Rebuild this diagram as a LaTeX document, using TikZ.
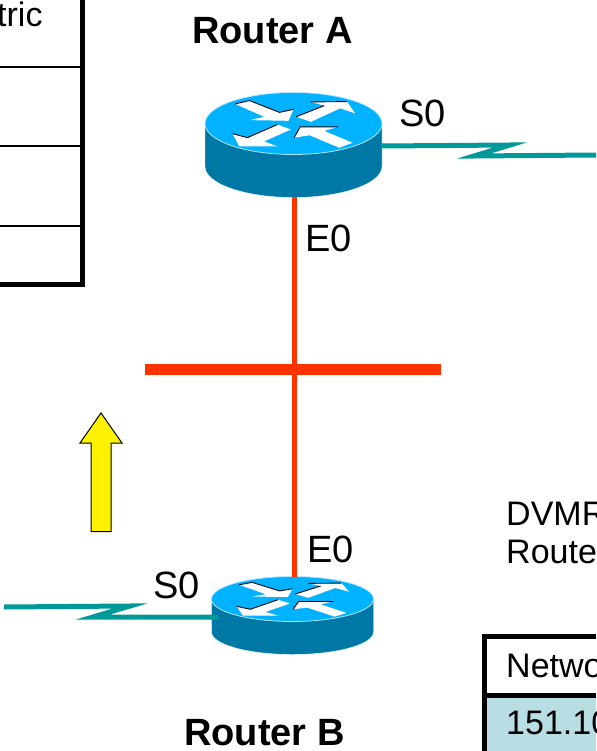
\documentclass[tikz,border=0pt]{standalone}
\usepackage{fontspec}
\setmainfont{Liberation Sans}
\definecolor{routertop}{RGB}{0,178,255}
\definecolor{routerside}{RGB}{0,120,165}
\definecolor{ethred}{RGB}{255,51,0}
\definecolor{serialteal}{RGB}{0,153,153}
\definecolor{rowblue}{RGB}{184,222,228}
\tikzset{
  x=1pt,y=-1pt,
  lbl/.style={inner sep=0pt,anchor=base west,font=\fontsize{38}{38}\selectfont},
  title/.style={inner sep=0pt,anchor=base west,font=\fontsize{38}{38}\selectfont\bfseries},
  rnode/.style={draw=none,fill=none,inner sep=0pt,rectangle},
  eth/.style={ethred,line width=5pt},
  ethbar/.style={ethred,line width=11pt},
  serial/.style={serialteal,line width=5pt,line join=miter},
  tblo/.style={black,line width=5pt},
  tbli/.style={black,line width=2.5pt},
  tblh/.style={black,line width=5pt}
}
\newcommand{\routerbody}[5]{% cx, cy, rx, ry, depth
  \begin{scope}[shift={(#1,#2)}]
    \fill[routerside,draw=white,line width=.4pt] (-#3,0) -- (-#3,#5) arc[start angle=180,end angle=360,x radius=#3,y radius=-#4] -- (#3,0) -- cycle;
    \fill[routertop,draw=white!70!routertop,line width=.8pt] (0,0) ellipse[x radius=#3,y radius=#4];
    \begin{scope}[xscale=#3/265,yscale=#4/92,shift={(-310,-130)}]
      \fill[white] (135,72)--(178,62)--(268,97)--(310,88)--(295,122)--(180,120)--(222,110)--cycle;
      \fill[white] (318,110)--(402,77)--(362,66)--(470,65)--(495,100)--(450,85)--(362,125)--cycle;
      \fill[white] (302,148)--(262,133)--(172,172)--(127,160)--(148,198)--(262,198)--(222,183)--cycle;
      \fill[white] (312,172)--(330,140)--(443,140)--(402,152)--(487,187)--(447,202)--(358,165)--cycle;
      \draw[black,line width=.9pt] (135,72)--(178,62)--(268,97)--(310,88);
      \draw[black,line width=.9pt] (318,110)--(402,77) (362,66)--(470,65);
      \draw[black,line width=.9pt] (262,133)--(172,172)--(127,160);
      \draw[black,line width=.9pt] (312,172)--(330,140)--(443,140);
    \end{scope}
  \end{scope}
}
\begin{document}
\begin{tikzpicture}
\useasboundingbox (0,0) rectangle (596,751);
\fill[white] (0,0) rectangle (596,751);
% left table
\draw[tbli] (0,67) -- (82,67) (0,146) -- (82,146) (0,226) -- (82,226);
\draw[tblo] (82,0) -- (82,284.5) -- (0,284.5);
\node[lbl] (metric) at (-3,27) {\fontsize{34}{34}\selectfont tric};
% right table
\fill[rowblue] (484,695) rectangle (596,751);
\draw[tblo] (596,636.5) -- (484,636.5) -- (484,751);
\draw[tblh] (484,695) -- (596,695);
\node[lbl] (nw) at (506,677) {\fontsize{34}{34}\selectfont Network};
\node[lbl] (net) at (506,734) {\fontsize{34}{34}\selectfont 151.10};
% DVMRP text
\node[lbl] (dv1) at (506,525) {\fontsize{34}{34}\selectfont DVMRP};
\node[lbl] (dv2) at (506,563) {\fontsize{34}{34}\selectfont Router};
% routers
\routerbody{293.5}{123.5}{88.5}{31}{43}
\routerbody{292.5}{599}{81}{22.5}{33}
\node[rnode,minimum width=177pt,minimum height=104pt] (ra) at (293.5,145) {};
\node[rnode,minimum width=162pt,minimum height=77pt] (rb) at (292.5,615.5) {};
% ethernet
\coordinate (hub) at (294,369);
\coordinate (busl) at (145,369);
\coordinate (busr) at (441,369);
\draw[eth] (ra.south -| hub) -- (hub);
\draw[eth] (hub) -- (rb.north -| hub);
\draw[ethbar] (busl) -- (busr);
% serial
\coordinate (sa) at (596,155);
\coordinate (sb) at (4,607);
\draw[serial] (ra.east |- 0,146) -- (510,145) -- (474,156) -- (sa);
\draw[serial] (sb) -- (130,606) -- (93,617) -- (218,617);
% yellow arrow
\node[inner sep=0pt] (up) at (101,470) {};
\draw[black,fill=yellow,line width=1pt] (91,531.5) -- (91,443) -- (80,443) -- (101,413) -- (122,443) -- (111,443) -- (111,531.5) -- cycle;
% labels
\node[title] (ta) at (192,44) {Router A};
\node[title] (tb) at (184,745) {Router B};
\node[lbl] (s0a) at (399,127) {S0};
\node[lbl] (e0a) at (305,251) {E0};
\node[lbl] (e0b) at (307,562) {E0};
\node[lbl] (s0b) at (153,598) {S0};
\end{tikzpicture}
\end{document}
